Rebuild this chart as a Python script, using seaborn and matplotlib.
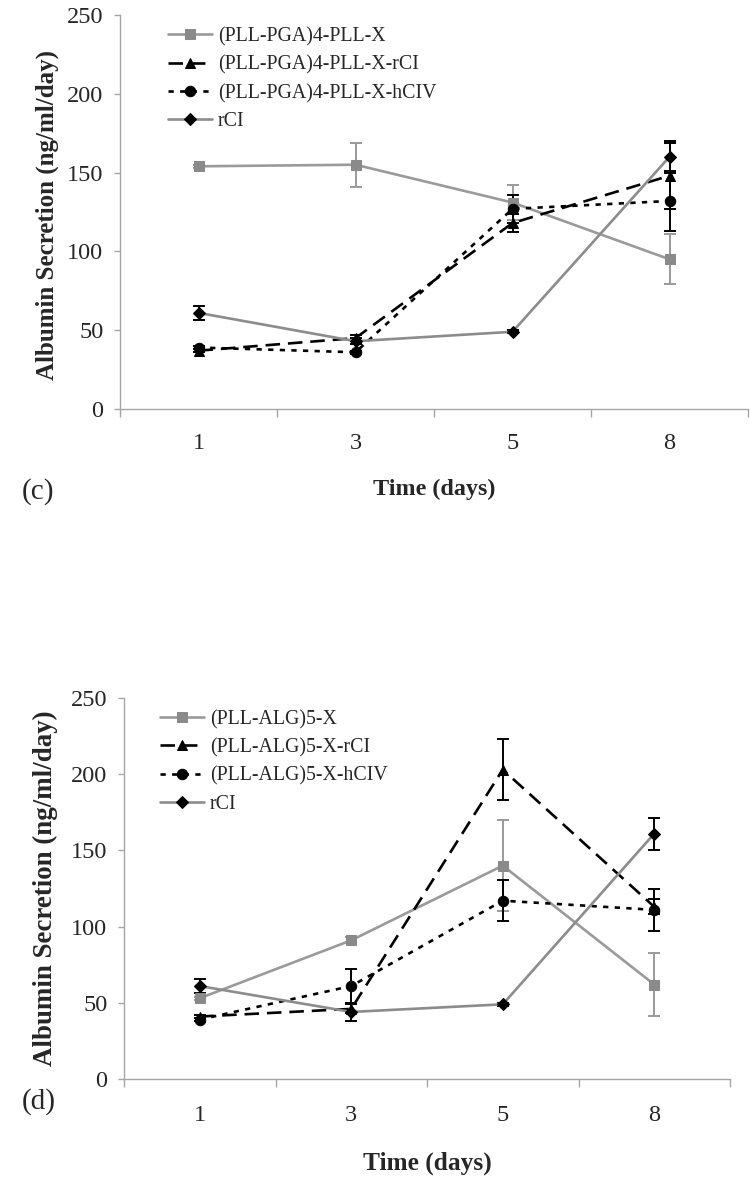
import numpy as np
import pandas as pd
import matplotlib
matplotlib.use("Agg")
import matplotlib.pyplot as plt
import seaborn as sns

# dados
dias = ['1', '3', '5', '8']

# painel (c)
nomes_c = ['(PLL-PGA)4-PLL-X', '(PLL-PGA)4-PLL-X-rCI', '(PLL-PGA)4-PLL-X-hCIV', 'rCI']
c_x = [154, 155, 131, 95]
c_x_err = [1, 14, 11, 16]
c_rci = [37, 45, 118, 148]
c_rci_err = [1, 2, 6, 21]
c_hciv = [39, 36, 127, 132]
c_hciv_err = [1, 1, 9, 19]
c_ctrl = [61, 43, 49, 160]
c_ctrl_err = [4.5, 2, 1, 10]

# painel (d)
nomes_d = ['(PLL-ALG)5-X', '(PLL-ALG)5-X-rCI', '(PLL-ALG)5-X-hCIV', 'rCI']
d_x = [53, 91, 140, 62]
d_x_err = [1, 2, 30, 20.5]
d_rci = [41, 46, 203, 113]
d_rci_err = [1, 3, 20, 5]
d_hciv = [39, 61, 117, 111]
d_hciv_err = [1, 11, 13.5, 14]
d_ctrl = [61, 44, 49, 161]
d_ctrl_err = [4.5, 6, 1, 10.5]

sns.set_style('white')
plt.rcParams['font.family'] = ['Liberation Serif', 'DejaVu Serif']

cinza = '#9a9a9a'
cinza_m = '#8a8a8a'
estilos = [
    dict(color=cinza, marker='s', ms=7, mfc=cinza_m, mec=cinza_m, ls='-', ecor=cinza),
    dict(color='black', marker='^', ms=7.5, mfc='black', mec='black', ls=(0, (5.5, 3)), ecor='black'),
    dict(color='black', marker='o', ms=7.5, mfc='black', mec='black', ls=(0, (2, 2.4)), ecor='black'),
    dict(color='#8c8c8c', marker='D', ms=6, mfc='black', mec='black', ls='-', ecor='black'),
]

fig = plt.figure(figsize=(7.5, 11.84), dpi=100)
ax_c = fig.add_axes([120 / 750, 1 - 409 / 1184, 628 / 750, 394 / 1184])
ax_d = fig.add_axes([124 / 750, 1 - 1079 / 1184, 606 / 750, 381 / 1184])

paineis = [
    (ax_c, nomes_c, [c_x, c_rci, c_hciv, c_ctrl], [c_x_err, c_rci_err, c_hciv_err, c_ctrl_err],
     17, (168 / 750, 1 - 27 / 1184), 0.46),
    (ax_d, nomes_d, [d_x, d_rci, d_hciv, d_ctrl], [d_x_err, d_rci_err, d_hciv_err, d_ctrl_err],
     19, (160 / 750, 1 - 710 / 1184), 0.45),
]

pos = np.arange(len(dias))
for ax, nomes, series, erros, xpad, leg_pos, lsp in paineis:
    linhas = []
    for nome, vals, err, st in zip(nomes, series, erros, estilos):
        df = pd.DataFrame({'pos': pos, 'val': vals})
        ax.errorbar(df['pos'], df['val'], yerr=err, fmt='none', ecolor=st['ecor'],
                    elinewidth=1.4, capsize=4, capthick=1.4, zorder=2)
        sns.lineplot(data=df, x='pos', y='val', ax=ax, color=st['color'], linestyle=st['ls'],
                     linewidth=1.9, marker=st['marker'], markersize=st['ms'],
                     markerfacecolor=st['mfc'], markeredgecolor=st['mec'], label=nome,
                     legend=False, zorder=3)
        linhas.append(ax.lines[-1])
    ax.set_xlim(-0.5, 3.5)
    ax.set_ylim(0, 250)
    ax.set_yticks([0, 50, 100, 150, 200, 250])
    ax.set_xticks(pos)
    ax.set_xticklabels(dias)
    ax.set_xticks(np.arange(-0.5, 4, 1), minor=True)
    ax.set_xlabel('')
    ax.set_ylabel('')
    for s in ['top', 'right']:
        ax.spines[s].set_visible(False)
    for s in ['left', 'bottom']:
        ax.spines[s].set_color('#a6a6a6')
        ax.spines[s].set_linewidth(1.0)
    ax.tick_params(axis='y', which='major', direction='out', length=4, width=1,
                   color='#a6a6a6', pad=8, labelsize=17.5, left=True)
    ax.tick_params(axis='x', which='major', length=0, pad=xpad, labelsize=17.5)
    ax.tick_params(axis='x', which='minor', direction='out', length=6, width=1,
                   color='#a6a6a6', bottom=True)
    ax.legend(handles=linhas, loc='upper left', bbox_to_anchor=leg_pos,
              bbox_transform=fig.transFigure, frameon=False, fontsize=14.3,
              borderpad=0, borderaxespad=0, handlelength=2.2, handletextpad=0.3,
              labelspacing=lsp)

# textos
fig.text(47 / 750, 1 - 215 / 1184, 'Albumin Secretion (ng/ml/day)', rotation=90,
         ha='center', va='center', fontsize=18, fontweight='bold')
fig.text(45 / 750, 1 - 888 / 1184, 'Albumin Secretion (ng/ml/day)', rotation=90,
         ha='center', va='center', fontsize=19.4, fontweight='bold')
fig.text(434 / 750, 1 - 489 / 1184, 'Time (days)', ha='center', va='center',
         fontsize=17.4, fontweight='bold')
fig.text(427 / 750, 1 - 1163 / 1184, 'Time (days)', ha='center', va='center',
         fontsize=18.3, fontweight='bold')
fig.text(38 / 750, 1 - 492 / 1184, '(c)', ha='center', va='center', fontsize=21)
fig.text(39 / 750, 1 - 1102 / 1184, '(d)', ha='center', va='center', fontsize=21)

fig.savefig('out.png', dpi=100)
